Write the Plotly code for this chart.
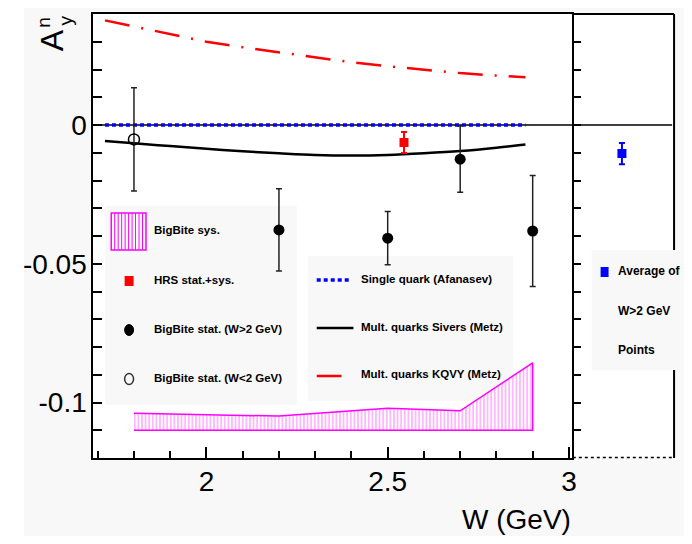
import plotly.graph_objects as go

# Reference-pixel -> figure-paper mapping (page body margin compensated).
OFF_X, OFF_Y = 4, 8
W_PX, H_PX = 680, 528


def px(x):
    return (x - OFF_X) / W_PX


def py(y):
    return 1 - (y - OFF_Y) / H_PX


SANS = "Liberation Sans, Arial, sans-serif"
MAGENTA = "#ff00ff"
PAGE_BG = "#f8f8f8"

# ---------------- data ----------------
# BigBite statistical points, W > 2 GeV
bb_w_hi = [2.2, 2.5, 2.7, 2.9]
bb_a_hi = [-0.0378, -0.0408, -0.0123, -0.0382]
bb_err_hi = [0.0148, 0.0096, 0.0119, 0.0200]
# BigBite statistical point, W < 2 GeV
bb_w_lo = [1.8]
bb_a_lo = [-0.0052]
bb_err_lo = [0.0186]
# HRS point (stat.+sys.)
hrs_w = [2.545]
hrs_a = [-0.0063]
hrs_err = [0.0038]
# BigBite systematic band
sys_w = [1.8, 2.2, 2.5, 2.7, 2.9]
sys_top = [-0.1039, -0.1049, -0.1021, -0.1030, -0.0857]
sys_bottom = [-0.1100, -0.1100, -0.1100, -0.1100, -0.1100]
# Theory curves
theory_w = [1.72, 1.8, 1.9, 2.0, 2.1, 2.2, 2.3, 2.4, 2.5, 2.6, 2.7, 2.8, 2.88]
afanasev = [0.0, 0.0, 0.0, 0.0, 0.0, 0.0, 0.0, 0.0, 0.0, 0.0, 0.0, 0.0, 0.0]
sivers = [-0.0058, -0.0066, -0.0076, -0.0086, -0.0095, -0.0102, -0.0108,
          -0.0110, -0.0108, -0.0102, -0.0094, -0.0082, -0.0070]
kqvy = [0.0377, 0.0355, 0.0326, 0.0300, 0.0280, 0.0262, 0.0243,
        0.0226, 0.0212, 0.0199, 0.0187, 0.0178, 0.0172]
# Average of W > 2 GeV points (right panel)
avg_pos = [0.49]
avg_a = [-0.0103]
avg_err = [0.0038]

# tick labels
x_tick_vals = [2, 2.5, 3]
x_tick_text = ["2", "2.5", "3"]
y_label_map = {0.0: "0", -0.05: "-0.05", -0.1: "-0.1"}
y_tick_vals = [round(-0.12 + 0.01 * i, 2) for i in range(17)]
y_tick_text = [y_label_map.get(v, "") for v in y_tick_vals]

fig = go.Figure()

# systematic band
fig.add_trace(go.Scatter(
    x=sys_w + sys_w[::-1], y=sys_top + sys_bottom[::-1],
    fill="toself", mode="lines",
    line=dict(color=MAGENTA, width=1.5),
    fillcolor="rgba(0,0,0,0)",
    fillpattern=dict(shape="|", fgcolor=MAGENTA, bgcolor="white", size=3.6, solidity=0.28),
    showlegend=False, hoverinfo="skip"))

# theory curves
fig.add_trace(go.Scatter(x=theory_w, y=kqvy, mode="lines",
                         line=dict(color="#ff0000", width=2.5, dash="25px,12px,2px,12px"),
                         showlegend=False))
fig.add_trace(go.Scatter(x=theory_w, y=sivers, mode="lines", line_shape="spline",
                         line=dict(color="black", width=2.5), showlegend=False))
fig.add_trace(go.Scatter(x=theory_w, y=afanasev, mode="lines",
                         line=dict(color="#0000ff", width=3.5, dash="4px,3px"),
                         showlegend=False))

# data points
fig.add_trace(go.Scatter(
    x=bb_w_lo, y=bb_a_lo, mode="markers",
    marker=dict(symbol="circle-open", size=11, color="black", line=dict(width=1.5)),
    error_y=dict(type="data", array=bb_err_lo, color="#222222", thickness=1.5, width=3),
    showlegend=False))
fig.add_trace(go.Scatter(
    x=bb_w_hi, y=bb_a_hi, mode="markers",
    marker=dict(symbol="circle", size=11, color="black"),
    error_y=dict(type="data", array=bb_err_hi, color="#222222", thickness=1.5, width=3),
    showlegend=False))
fig.add_trace(go.Scatter(
    x=hrs_w, y=hrs_a, mode="markers",
    marker=dict(symbol="square", size=9, color="#ff0000"),
    error_y=dict(type="data", array=hrs_err, color="#ff0000", thickness=2, width=3),
    showlegend=False))
fig.add_trace(go.Scatter(
    x=avg_pos, y=avg_a, mode="markers", xaxis="x2", yaxis="y2",
    marker=dict(symbol="square", size=9, color="#0000ff"),
    error_y=dict(type="data", array=avg_err, color="#0000ff", thickness=2, width=3),
    showlegend=False))

shapes = []
# white strip at the far left of the page, as in the reference
shapes.append(dict(type="rect", xref="paper", yref="paper", layer="below",
                   x0=0, x1=px(20), y0=0, y1=1,
                   fillcolor="white", line=dict(width=0)))
# legend backgrounds (below data)
shapes.append(dict(type="rect", xref="paper", yref="paper", layer="below",
                   x0=px(102), x1=px(295), y0=py(405), y1=py(206),
                   fillcolor=PAGE_BG, line=dict(width=0)))
shapes.append(dict(type="rect", xref="paper", yref="paper", layer="below",
                   x0=px(306), x1=px(513), y0=py(401), y1=py(256),
                   fillcolor=PAGE_BG, line=dict(width=0)))
# zero line across both panels
shapes.append(dict(type="line", xref="paper", yref="y", layer="below",
                   x0=px(90), x1=px(673), y0=0, y1=0,
                   line=dict(color="black", width=1.5)))
# right panel frame
shapes.append(dict(type="line", xref="paper", yref="paper",
                   x0=px(572), x1=px(675), y0=py(14), y1=py(14),
                   line=dict(color="black", width=2)))
shapes.append(dict(type="line", xref="paper", yref="paper",
                   x0=px(675), x1=px(675), y0=py(14), y1=py(458),
                   line=dict(color="black", width=2)))
shapes.append(dict(type="line", xref="paper", yref="paper",
                   x0=px(573), x1=px(675), y0=py(457.5), y1=py(457.5),
                   line=dict(color="black", width=1.5, dash="dot")))
# right legend box (over the frame)
shapes.append(dict(type="rect", xref="paper", yref="paper",
                   x0=px(592), x1=1.0, y0=py(370), y1=py(250),
                   fillcolor=PAGE_BG, line=dict(width=0)))

# legend 1 symbols
shapes.append(dict(type="rect", xref="paper", yref="paper",
                   x0=px(108), x1=px(143), y0=py(250), y1=py(213),
                   fillcolor="white", line=dict(color=MAGENTA, width=1.5)))
hatch = " ".join(f"M{px(108 + 3.5 * i):.5f},{py(213):.5f} V{py(250):.5f}" for i in range(1, 10))
shapes.append(dict(type="path", xref="paper", yref="paper", path=hatch,
                   line=dict(color=MAGENTA, width=1)))
shapes.append(dict(type="rect", xref="paper", yref="paper",
                   x0=px(121.5), x1=px(130.5), y0=py(286), y1=py(276),
                   fillcolor="#ff0000", line=dict(width=0)))
shapes.append(dict(type="circle", xref="paper", yref="paper",
                   x0=px(121.5), x1=px(130.5), y0=py(335.5), y1=py(324.5),
                   fillcolor="black", line=dict(color="black", width=1)))
shapes.append(dict(type="circle", xref="paper", yref="paper",
                   x0=px(121.5), x1=px(130.5), y0=py(384.5), y1=py(373.5),
                   fillcolor="rgba(0,0,0,0)", line=dict(color="#333333", width=1.5)))
# legend 2 symbols
shapes.append(dict(type="line", xref="paper", yref="paper",
                   x0=px(315), x1=px(349), y0=py(280), y1=py(280),
                   line=dict(color="#0000ff", width=3.5, dash="4px,3px")))
shapes.append(dict(type="line", xref="paper", yref="paper",
                   x0=px(315), x1=px(352), y0=py(328), y1=py(328),
                   line=dict(color="black", width=2.5)))
shapes.append(dict(type="line", xref="paper", yref="paper",
                   x0=px(315), x1=px(340), y0=py(376), y1=py(376),
                   line=dict(color="#ff0000", width=2.5)))
# legend 3 symbol
shapes.append(dict(type="rect", xref="paper", yref="paper",
                   x0=px(601), x1=px(609), y0=py(277), y1=py(267),
                   fillcolor="#0000ff", line=dict(width=0)))

annotations = []


def label(x, y, text, size=11.5):
    annotations.append(dict(xref="paper", yref="paper", x=px(x), y=py(y),
                            xanchor="left", yanchor="middle", showarrow=False,
                            text=f"<b>{text}</b>",
                            font=dict(family=SANS, size=size, color="black")))


label(149, 230, "BigBite sys.")
label(149, 280, "HRS stat.+sys.")
label(149, 329, "BigBite stat. (W&gt;2 GeV)")
label(149, 378, "BigBite stat. (W&lt;2 GeV)")
label(358, 279, "Single quark (Afanasev)")
label(358, 327, "Mult. quarks Sivers (Metz)")
label(358, 374, "Mult. quarks KQVY (Metz)")
label(616, 271, "Average of", size=12)
label(616, 311, "W&gt;2 GeV", size=12)
label(616, 350, "Points", size=12)

# axis titles
annotations.append(dict(xref="paper", yref="paper", x=px(573), y=py(519),
                        xanchor="right", yanchor="middle", showarrow=False,
                        text="W (GeV)", font=dict(family=SANS, size=28, color="black")))
annotations.append(dict(xref="paper", yref="paper", x=px(49), y=py(40.5),
                        xanchor="center", yanchor="middle", showarrow=False, textangle=-90,
                        text="A", font=dict(family=SANS, size=32, color="black")))
annotations.append(dict(xref="paper", yref="paper", x=px(40), y=py(22),
                        xanchor="center", yanchor="middle", showarrow=False, textangle=-90,
                        text="n", font=dict(family=SANS, size=19, color="black")))
annotations.append(dict(xref="paper", yref="paper", x=px(61), y=py(21),
                        xanchor="center", yanchor="middle", showarrow=False, textangle=-90,
                        text="y", font=dict(family=SANS, size=19, color="black")))

fig.update_layout(
    width=W_PX, height=H_PX,
    margin=dict(l=0, r=0, t=0, b=0),
    paper_bgcolor=PAGE_BG, plot_bgcolor="white",
    showlegend=False,
    shapes=shapes, annotations=annotations,
    xaxis=dict(domain=[px(90), px(572)], range=[1.688, 3.008],
               showline=True, mirror=True, linecolor="black", linewidth=2,
               showgrid=False, zeroline=False,
               tickmode="array", tickvals=x_tick_vals, ticktext=x_tick_text,
               ticks="inside", ticklen=11, tickwidth=1.5, tickcolor="black",
               minor=dict(ticks="inside", dtick=0.1, tick0=0, ticklen=7,
                          tickwidth=1.5, tickcolor="black", showgrid=False),
               tickfont=dict(family=SANS, size=28, color="black"),
               ticklabelstandoff=-3),
    yaxis=dict(domain=[py(458), py(14)], range=[-0.12, 0.04],
               showline=True, mirror=True, linecolor="black", linewidth=2,
               showgrid=False, zeroline=False,
               tickmode="array", tickvals=y_tick_vals, ticktext=y_tick_text,
               ticks="inside", ticklen=9, tickwidth=2, tickcolor="black",
               tickfont=dict(family=SANS, size=28, color="black"),
               ticklabelstandoff=-1),
    xaxis2=dict(domain=[px(572), px(675)], range=[0, 1], anchor="y2",
                showline=False, showgrid=False, zeroline=False,
                showticklabels=False, ticks=""),
    yaxis2=dict(domain=[py(458), py(14)], range=[-0.12, 0.04], anchor="x2",
                showline=False, showgrid=False, zeroline=False,
                tickmode="array", tickvals=y_tick_vals, showticklabels=False,
                ticks="inside", ticklen=9, tickwidth=2, tickcolor="black"),
)

fig.write_html("out.html")
